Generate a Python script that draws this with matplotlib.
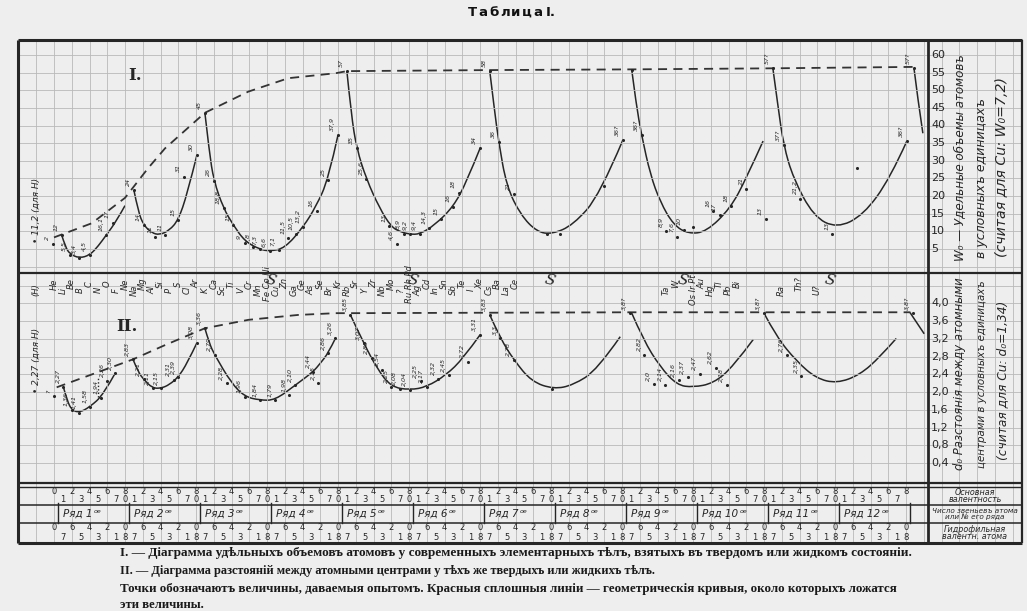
import matplotlib
matplotlib.use("Agg")
import matplotlib.pyplot as plt
from matplotlib.lines import Line2D
from matplotlib.path import Path
from matplotlib.patches import PathPatch

W, H = 1027, 611

# ---------------- data ----------------
# x = column position: "Ряд k" occupies columns 8(k-1)..8k, one column per valence group
# Diagram I : specific atomic volumes W0 (conventional units), solid arcs
arcs_I_x = [
    [0.86, 1.3, 1.8, 2.85, 4.05, 5.0, 5.9, 7.0, 8.0],
    [9.0, 9.5, 10.1, 11.0, 11.9, 13.0, 14.0, 15.0, 16.1],
    [17.0, 17.5, 18.0, 19.1, 20.2, 21.5, 23.2, 24.3, 26.0, 28.1, 29.5, 30.9, 32.0],
    [33.0, 33.5, 34.1, 35.2, 36.7, 38.0, 39.0, 40.1, 41.2, 42.9, 45.0, 46.5, 48.0],
    [49.1, 49.6, 50.1, 51.0, 52.6, 54.4, 56.1, 58.5, 61.5, 64.1],
    [65.1, 65.6, 66.2, 67.2, 68.3, 69.8, 71.5, 73.5, 76.2, 78.0, 79.9],
    [81.0, 81.6, 82.2, 83.3, 85.6, 88.2, 91.2, 94.2, 96.1],
    [96.9, 97.3, 97.9],
]
arcs_I_y = [
    [9.0, 5.5, 3.6, 2.4, 3.3, 5.9, 9.0, 12.8, 17.3],
    [21.7, 15.5, 11.8, 9.6, 9.0, 10.3, 13.2, 20.5, 31.6],
    [43.6, 32.5, 24.4, 16.5, 11.8, 7.2, 4.9, 4.4, 5.2, 11.3, 17.0, 24.6, 37.3],
    [55.4, 43.0, 33.5, 24.8, 16.5, 11.3, 9.9, 9.2, 9.2, 11.8, 17.0, 24.1, 33.5],
    [55.4, 45.0, 35.4, 22.7, 14.6, 9.9, 9.2, 11.8, 20.3, 35.9],
    [55.7, 46.0, 37.3, 26.0, 18.4, 11.8, 9.3, 9.9, 16.5, 25.0, 35.6],
    [56.2, 45.0, 34.5, 25.0, 14.2, 10.9, 14.6, 25.0, 35.6],
    [56.2, 48.0, 37.8],
]
env_I_x = [0.0, 4.25, 8.0, 10.6, 12.5, 17.0, 21.9, 26.4, 31.7, 33.0, 49.1, 65.1, 81.0, 96.9]
env_I_y = [8.3, 12.3, 19.5, 27.9, 33.5, 43.6, 49.6, 53.4, 54.8, 55.4, 55.7, 55.9, 56.2, 56.6]
pts_I_x = [-0.15, 0.86, 1.8, 2.85, 4.05, 5.9, 6.6, 9.0, 10.1, 11.4, 12.5, 14.0, 14.6, 16.1,
           17.0, 18.0, 19.1, 20.2, 21.5, 22.4, 23.2, 24.3, 25.3, 26.4, 27.3, 28.1, 29.6, 30.9,
           32.0, 33.0, 34.1, 35.2, 37.8, 38.6, 39.4, 40.1, 41.2, 42.3, 43.6, 45.0, 45.6, 48.0,
           49.1, 50.1, 51.8, 55.5, 57.0, 62.0, 64.1, 65.1, 66.2, 69.0, 70.2, 71.0, 72.0,
           74.3, 75.0, 76.3, 78.0, 80.2, 81.0, 82.2, 84.1, 87.7, 90.5, 96.1, 96.9]
pts_I_y = [6.3, 9.0, 3.3, 2.4, 3.3, 9.0, 12.5, 21.7, 11.8, 8.4, 9.0, 13.2, 25.5, 31.6,
           43.6, 24.4, 16.5, 11.8, 6.6, 5.6, 4.9, 4.4, 4.6, 8.0, 9.2, 11.3, 15.8, 24.6,
           37.3, 55.4, 33.5, 24.8, 11.5, 6.5, 9.4, 9.2, 9.2, 11.0, 13.5, 17.0, 21.0, 33.5,
           55.4, 35.4, 20.6, 9.4, 9.4, 23.0, 35.9, 55.7, 37.3, 10.0, 8.5, 10.5, 11.2,
           15.7, 14.6, 17.2, 22.0, 13.5, 56.2, 34.5, 19.3, 9.2, 28.0, 35.6, 56.2]
pts_I_lab = ["2", "12", "5,5", "3,4", "4,5", "16,1", "17", "24", "14", "11", "11", "15", "31", "30",
             "45", "26", "18,8", "15", "9", "7,8", "7,3", "6,6", "7,1", "11,5", "10,5", "13,2", "16", "25",
             "37,9", "57", "35", "25,6", "13", "4,6", "8,9", "9,2", "9,4", "14,3", "15", "16", "18", "34",
             "58", "36", "21", "", "", "", "36?", "", "36?", "8,9", "7,6", "10", "",
             "16", "17", "18", "21", "13", "57?", "37?", "21,2", "13", "", "36?", "57?"]

# Diagram II : distances between atomic centres d0 (conventional units)
arcs_II_x = [
    [1.05, 1.5, 2.0, 2.85, 4.05, 5.55, 6.9],
    [8.9, 9.5, 10.1, 11.1, 12.1, 13.0, 14.0, 15.0, 16.1],
    [17.0, 17.5, 18.1, 20.0, 21.5, 23.2, 24.9, 27.2, 29.2, 30.0, 30.9, 31.7],
    [33.4, 34.9, 36.5, 38.0, 40.1, 42.0, 44.2, 46.1, 48.0],
    [49.1, 50.3, 51.8, 53.8, 56.3, 58.5, 61.2, 63.8],
    [65.1, 66.4, 68.3, 70.2, 72.0, 74.3, 76.5, 78.8],
    [80.0, 81.4, 83.7, 85.9, 88.2, 90.8, 93.1, 94.9],
    [96.5, 98.0],
]
arcs_II_y = [
    [2.12, 1.8, 1.6, 1.54, 1.67, 1.94, 2.43],
    [2.74, 2.45, 2.29, 2.09, 2.09, 2.17, 2.34, 2.65, 3.11],
    [3.44, 3.1, 2.84, 2.2, 1.9, 1.82, 1.82, 2.16, 2.46, 2.65, 2.88, 3.21],
    [3.74, 3.1, 2.5, 2.12, 2.05, 2.12, 2.39, 2.76, 3.29],
    [3.74, 3.21, 2.73, 2.24, 2.07, 2.16, 2.5, 3.25],
    [3.78, 3.18, 2.57, 2.16, 2.11, 2.2, 2.57, 3.19],
    [3.78, 3.25, 2.69, 2.31, 2.2, 2.39, 2.8, 3.21],
    [3.78, 3.33],
]
env_II_x = [0.3, 8.9, 12.5, 17.0, 21.9, 27.5, 31.7, 33.4, 49.1, 65.1, 80.0, 96.5]
env_II_y = [2.11, 2.74, 3.06, 3.44, 3.63, 3.74, 3.78, 3.78, 3.79, 3.8, 3.8, 3.8]
dotted_II_x = [5.0, 5.0]
dotted_II_y = [1.9, 2.35]
pts_II_x = [0.03, 1.05, 2.0, 2.85, 4.05, 5.3, 6.0, 6.9, 8.9, 10.1, 11.1, 12.1, 13.5, 14.0, 16.1,
            17.0, 18.1, 19.5, 21.5, 23.2, 24.9, 26.5, 27.2, 29.2, 29.8, 30.9, 31.7,
            33.4, 34.9, 35.8, 37.0, 38.0, 39.0, 40.1, 41.3, 42.0, 43.3, 44.5, 46.6, 48.0,
            49.1, 50.3, 51.8, 56.1, 64.9, 66.5, 67.6, 68.9, 70.4, 71.4, 72.8, 74.6, 75.8,
            80.0, 82.6, 84.2, 96.8]
pts_II_y = [1.91, 2.12, 1.6, 1.54, 1.67, 1.88, 2.26, 2.43, 2.74, 2.29, 2.09, 2.09, 2.28, 2.34, 3.11,
            3.44, 2.84, 2.2, 1.9, 1.82, 1.82, 1.93, 2.16, 2.46, 2.2, 2.88, 3.21,
            3.74, 3.1, 2.78, 2.5, 2.12, 2.08, 2.05, 2.25, 2.12, 2.3, 2.38, 2.68, 3.29,
            3.74, 3.21, 2.73, 2.07, 3.78, 2.84, 2.18, 2.17, 2.27, 2.34, 2.42, 2.55, 2.16,
            3.78, 2.83, 2.36, 3.78]
pts_II_lab = ["?", "2,27", "1,36", "1,41", "1,58", "1,94", "2,26", "2,30", "2,83", "2,21", "2,11", "2,15", "2,31", "2,39", "3,08",
              "3,36", "2,79", "2,28", "1,96", "1,84", "1,79", "1,98", "2,10", "2,44", "2,15", "2,86", "3,26",
              "3,85", "3,07", "2,80", "2,54", "2,25", "2,08", "2,04", "2,25", "2,17", "2,32", "2,45", "2,72", "3,31",
              "3,83", "3,3", "2,78", "", "3,8?", "2,82", "2,0", "2,14", "2,16", "2,37", "2,47", "2,62", "2,18",
              "3,8?", "2,76", "2,35", "3,8?"]

# element symbols written in the band between the two diagrams
elem_x = [-2, 0, 1, 2, 3, 4, 5, 6, 7, 8, 9, 10, 11, 12, 13, 14, 15, 16, 17, 18, 19, 20, 21,
          22, 23, 24, 25, 26, 27, 28, 29, 30, 31, 32, 33, 34, 35, 36, 37, 38, 39, 40, 41, 42,
          43, 44, 45, 46, 47, 48, 49, 50, 51, 52, 69, 70, 72, 73, 74, 75, 76, 77, 82, 84, 86]
elem_lab = ["(H)", "He", "Li", "Be", "B", "C", "N", "O", "F", "Ne", "Na", "Mg", "Al", "Si", "P",
            "S", "Cl", "Ar", "K", "Ca", "Sc", "Ti", "V", "Cr", "Mn", "Fe Co Ni", "Cu", "Zn", "Ga",
            "Ge", "As", "Se", "Br", "Kr", "Rb", "Sr", "Y", "Zr", "Nb", "Mo", "?", "Ru Rh Pd", "Ag",
            "Cd", "In", "Sn", "Sb", "Te", "I", "Xe", "Cs", "Ba", "La", "Ce", "Ta", "W", "Os Ir Pt",
            "Au", "Hg", "Tl", "Pb", "Bi", "Ra", "Th?", "U?"]

upper_ticks = [5, 10, 15, 20, 25, 30, 35, 40, 45, 50, 55, 60]
lower_ticks = [0.4, 0.8, 1.2, 1.6, 2.0, 2.4, 2.8, 3.2, 3.6, 4.0]
rows = list(range(1, 13))                       # Ряд 1 .. Ряд 12
main_valence = ["0", "1", "2", "3", "4", "5", "6", "7", "8"]
hydro_valence = ["0", "7", "6", "5", "4", "3", "2", "1", "0"]

# ---------------- styling / layout ----------------
PAPER = "#eeeeee"
INK = "#262626"
GRID = "#b9b9b9"
X0_PX, UNIT_PX = 54.0, 8.875


def u_of(px):
    return (px - X0_PX) / UNIT_PX


XL = (u_of(18), u_of(1022))

fig = plt.figure(figsize=(W / 100, H / 100), dpi=100)
fig.patch.set_facecolor(PAPER)


def add_ax(x0, y0, x1, y1):
    ax = fig.add_axes([x0 / W, 1 - y1 / H, (x1 - x0) / W, (y1 - y0) / H])
    ax.set_facecolor("none")
    for s in ax.spines.values():
        s.set_visible(False)
    ax.set_xlim(*XL)
    ax.set_xticks(range(-4, 110, 2))
    ax.tick_params(length=0, labelbottom=False, labelleft=False)
    ax.grid(True, axis="x", color=GRID, lw=0.6)
    return ax


def fline(x0, y0, x1, y1, lw=1.5, color=INK):
    fig.add_artist(Line2D([x0 / W, x1 / W], [1 - y0 / H, 1 - y1 / H],
                          transform=fig.transFigure, lw=lw, color=color, solid_capstyle="butt"))


def ftext(x, y, s, **kw):
    return fig.text(x / W, 1 - y / H, s, **kw)


def fit(t, target, vertical=False):
    r = fig.canvas.get_renderer()
    bb = t.get_window_extent(r)
    cur = bb.height if vertical else bb.width
    t.set_fontsize(t.get_fontsize() * target / cur)


def smooth(ax, xs, ys, **kw):
    # quadratic Bezier chain through the read points (midpoint anchors)
    pts = list(zip(xs, ys))
    if len(pts) < 3:
        ax.plot(xs, ys, **kw)
        return
    verts = [pts[0]]
    codes = [Path.MOVETO]
    for i in range(1, len(pts) - 1):
        mid = ((pts[i][0] + pts[i + 1][0]) / 2, (pts[i][1] + pts[i + 1][1]) / 2)
        end = pts[-1] if i == len(pts) - 2 else mid
        verts += [pts[i], end]
        codes += [Path.CURVE3, Path.CURVE3]
    ax.add_patch(PathPatch(Path(verts, codes), fill=False, **kw))


# upper diagram
ax1 = add_ax(18, 40, 1022, 273)
ax1.set_ylim((266.7 - 273) / 3.53, (266.7 - 40) / 3.53)
ax1.set_yticks([0] + upper_ticks)
ax1.grid(True, axis="y", color=GRID, lw=0.6)

# lower diagram
ax2 = add_ax(18, 273, 1022, 483)
ax2.set_ylim((481 - 483) / 44.4, (481 - 273) / 44.4)
ax2.set_yticks(lower_ticks + [4.4])
ax2.grid(True, axis="y", color=GRID, lw=0.6)

# table
axt = add_ax(18, 483, 1022, 543)
axt.set_ylim(543, 483)
axt.set_yticks([])

for xs, ys in zip(arcs_I_x, arcs_I_y):
    smooth(ax1, xs, ys, color=INK, lw=1.1)
ax1.plot(env_I_x, env_I_y, color="#333333", lw=1.3, ls=(0, (5, 3.5)))
ax1.scatter(pts_I_x, pts_I_y, s=5, color=INK, zorder=3, lw=0)
for x, y, lab in zip(pts_I_x, pts_I_y, pts_I_lab):
    if lab:
        ax1.text(x - 0.3, y + 1.2, lab, rotation=90, fontsize=4.6, ha="right", va="bottom",
                 color=INK, style="italic")

for xs, ys in zip(arcs_II_x, arcs_II_y):
    smooth(ax2, xs, ys, color=INK, lw=1.1)
ax2.plot(env_II_x, env_II_y, color="#333333", lw=1.3, ls=(0, (5, 3.5)))
ax2.plot(dotted_II_x, dotted_II_y, color=INK, lw=1.0, ls=(0, (1, 1.5)))
ax2.scatter(pts_II_x, pts_II_y, s=5, color=INK, zorder=3, lw=0)
for x, y, lab in zip(pts_II_x, pts_II_y, pts_II_lab):
    if lab:
        ax2.text(x - 0.3, y + 0.08, lab, rotation=90, fontsize=4.6, ha="right", va="bottom",
                 color=INK, style="italic")

# element band
for i, (x, lab) in enumerate(zip(elem_x, elem_lab)):
    yv = 4.44 if i % 2 else 4.3
    ax2.text(x, yv, lab, rotation=90, fontsize=6, ha="center", va="center", color=INK,
             style="italic")
for x in (24.4, 40.4, 55.8, 70.8, 87.4):
    ax2.text(x, 4.52, "S", fontsize=11, ha="center", va="center", color=INK, rotation=-15,
             style="italic", family="DejaVu Serif")

# roman numerals and left labels
ax1.text(9.1, 54.3, "I.", fontsize=12, family="DejaVu Serif", fontweight="bold", color=INK,
         ha="center", va="center")
ax2.text(8.2, 3.47, "II.", fontsize=12, family="DejaVu Serif", fontweight="bold", color=INK,
         ha="center", va="center")
ax1.text(-2.0, 16.0, "• 11,2 (для H)", rotation=90, fontsize=6.5, ha="center", va="center",
         color=INK, style="italic")
ax2.text(-2.0, 2.72, "• 2,27 (для H)", rotation=90, fontsize=6.5, ha="center", va="center",
         color=INK, style="italic")

# right-hand scales
for v in upper_ticks:
    ax1.text(u_of(931), v, str(v), fontsize=8, ha="left", va="center", color=INK)
for v in lower_ticks:
    ax2.text(u_of(931), v, f"{v:.1f}".replace(".", ","), fontsize=8, ha="left", va="center",
             color=INK)

rt = [(960, 158, "W₀ — Удельные объемы атомовъ", 207),
      (981, 178, "в условныхъ единицахъ", 160),
      (1002, 167, "(считая для Cu: W₀=7,2)", 180),
      (960, 374, "d₀ Разстоянія между атомными", 192),
      (982, 374, "центрами в условныхъ единицахъ", 187),
      (1003, 380, "(считая для Cu: d₀=1,34)", 160)]
for x, y, s, L in rt:
    t = ftext(x, y, s, rotation=90, fontsize=9, ha="center", va="center", color=INK, style="italic")
    fit(t, L, vertical=True)

# table contents
for k in range(12):
    for g in range(9):
        u = 8 * k + g
        if g == 0 and k > 0:
            continue
        if g % 2 == 0:
            axt.text(u, 491.5, main_valence[g], fontsize=6, ha="center", va="center", color=INK)
            axt.text(u, 527.5, hydro_valence[g], fontsize=6, ha="center", va="center", color=INK)
        else:
            axt.text(u, 500, main_valence[g], fontsize=6, ha="center", va="center", color=INK)
            axt.text(u, 537, hydro_valence[g], fontsize=6, ha="center", va="center", color=INK)
    if k < 11:
        axt.text(8 * k + 8, 500, "0", fontsize=6, ha="center", va="center", color=INK)
    axt.text(8 * k + 8, 537, "8", fontsize=6, ha="center", va="center", color=INK)
for k, r in enumerate(rows):
    axt.axvline(8 * k + 0.5, ymin=0.33, ymax=0.67, color=INK, lw=1.0)
    tm = axt.text(8 * k + 1.0, 514, f"Ряд {r}", fontsize=7.5, ha="left", va="center", color=INK,
                  style="italic")
    axt.annotate("ое", xy=(1, 0.75), xycoords=tm, xytext=(1, 0), textcoords="offset points",
                 fontsize=4.5, ha="left", va="center", color=INK, style="italic")
axt.axvline(96.5, ymin=0.33, ymax=0.67, color=INK, lw=1.0)

tab_lab = [(496, "Основная\nвалентность", 5.8), (514, "Число звеньевъ атома\nили № его ряда", 5.2),
           (533, "Гидрофильная\nвалентн. атома", 5.8)]
for y, s, fs in tab_lab:
    ftext(975, y, s, fontsize=fs, ha="center", va="center", color=INK, style="italic",
          linespacing=0.85)

# frame and rules
fline(18, 40, 1022, 40, 2.2)
fline(18, 543, 1022, 543, 2.2)
fline(18, 40, 18, 543, 2.2)
fline(1022, 40, 1022, 543, 1.6)
fline(928, 40, 928, 543, 2.0)
fline(18, 273, 1022, 273, 1.6)
fline(18, 483, 1022, 483, 1.6)
fline(18, 487, 1022, 487, 1.0)
fline(18, 505, 1022, 505, 1.1)
fline(18, 523, 1022, 523, 1.1)

# title (letter-spaced) and caption
title_chars = ["Т", "а", "б", "л", "и", "ц", "а", "I."]
title_px = [472, 483, 494, 505, 516, 527, 538, 551]
for c, x in zip(title_chars, title_px):
    ftext(x, 12, c, fontsize=9.5, fontweight="bold", ha="center", va="center", color="#111111")

cap = [(553, "I. — Діаграмма удѣльныхъ объемовъ атомовъ у современныхъ элементарныхъ тѣлъ, взятыхъ въ твердомъ или жидкомъ состояніи.", 785),
       (571, "II. — Діаграмма разстояній между атомными центрами у тѣхъ же твердыхъ или жидкихъ тѣлъ.", 537),
       (589, "Точки обозначаютъ величины, даваемыя опытомъ. Красныя сплошныя линіи — геометрическія кривыя, около которыхъ ложатся", 777),
       (605, "эти величины.", 85)]
for y, s, L in cap:
    t = ftext(120, y, s, fontsize=10, family=["Liberation Serif", "DejaVu Serif"],
              ha="left", va="center", color="#1a1a1a", fontweight="bold")
    fit(t, L)

fig.savefig("out.png", dpi=100, facecolor=fig.get_facecolor())
